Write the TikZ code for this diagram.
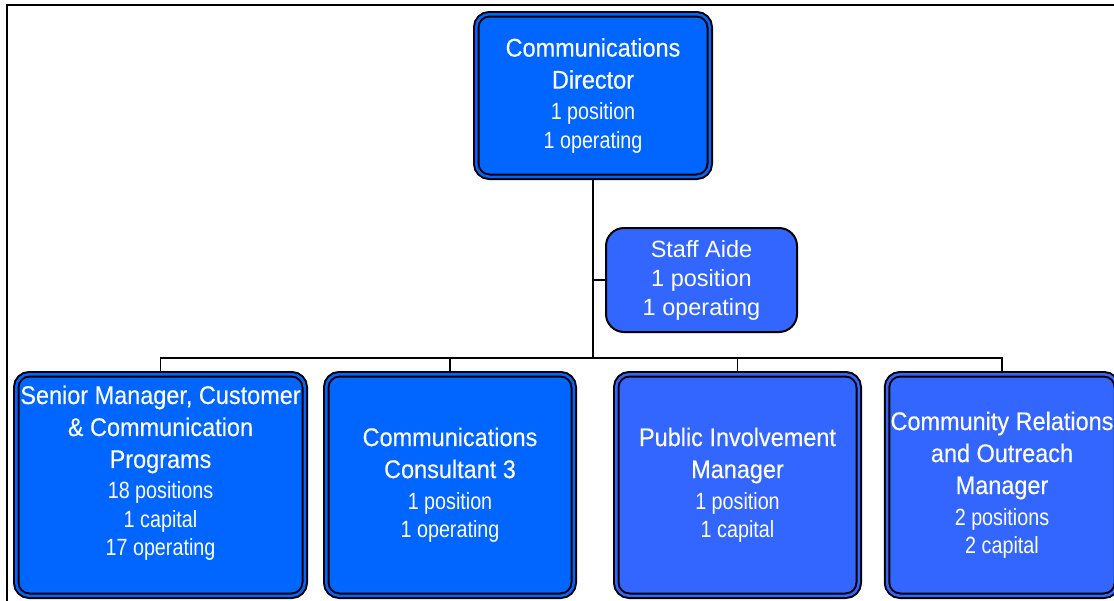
\documentclass[tikz,border=0pt]{standalone}
\usepackage{fontspec}
\setmainfont{Liberation Sans}
\newfontfamily\narrowfont[FakeStretch=0.84]{Liberation Sans}
\newfontfamily\titlefont[FakeStretch=0.92,FakeBold=0.3]{Liberation Sans}
\definecolor{blueA}{RGB}{0,102,255}
\definecolor{blueB}{RGB}{51,102,255}
\newcommand{\nr}[1]{{\fontsize{23.5}{28.5}\selectfont\narrowfont #1}}
\tikzset{
  unitbox/.style={rectangle, rounded corners=13pt, draw=black, line width=2pt,
    double distance=2.5pt, inner sep=0pt, outer sep=3.25pt, text=white,
    align=center, font=\fontsize{25.5}{28.5}\selectfont\titlefont},
  unitA/.style={unitbox, fill=blueA, double=blueA},
  unitB/.style={unitbox, fill=blueB, double=blueB},
  aidebox/.style={rectangle, rounded corners=18pt, draw=black, line width=2pt,
    fill=blueB, inner sep=0pt, outer sep=1pt, text=white, align=center,
    font=\fontsize{23.5}{29}\selectfont},
  link/.style={draw=black, line width=1.5pt},
  trunk/.style={draw=black, line width=2pt},
  frameline/.style={draw=black, line width=2.3pt},
}
\begin{document}
\begin{tikzpicture}[x=1pt,y=-1pt]
\useasboundingbox (0,0) rectangle (1114,600);
\clip (0,0) rectangle (1114,600);
\draw[frameline] (7,601) -- (7,5) -- (1115,5);

\node[unitA, minimum width=233.5pt, minimum height=162.5pt] (dir) at (593,95.5)
  {Communications\\[3.5pt] Director\\[2.5pt] \nr{1 position}\\ \nr{1 operating}};

\node[aidebox, minimum width=191pt, minimum height=104pt] (aide) at (701.5,280)
  {Staff Aide\\ 1 position\\ 1 operating};

\node[unitA, minimum width=288.5pt, minimum height=221.5pt] (senior) at (160.5,485)
  {Senior Manager, Customer\\[3.5pt] \& Communication\\[3.5pt] Programs\\[2.5pt]
   \nr{18 positions}\\ \nr{1 capital}\\ \nr{17 operating}\\ \mbox{}};

\node[unitA, minimum width=247.5pt, minimum height=221.5pt] (cons) at (450,485)
  {Communications\\[3.5pt] Consultant 3\\[2.5pt] \nr{1 position}\\ \nr{1 operating}};

\node[unitB, minimum width=242.5pt, minimum height=221.5pt] (pub) at (737.5,485)
  {Public Involvement\\[3.5pt] Manager\\[2.5pt] \nr{1 position}\\ \nr{1 capital}};

\node[unitB, minimum width=230pt, minimum height=221.5pt] (comm) at (1002,485)
  {Community Relations\\[3.5pt] and Outreach\\[3.5pt] Manager\\[2.5pt]
   \nr{2 positions}\\ \nr{2 capital}};

\coordinate (bus) at (593,358);
\draw[trunk] (dir.south) -- (bus);
\draw[link] (aide.west) -- (aide.west -| dir.south);
\draw[link] (senior.north) |- (bus) -| (comm.north);
\draw[link] (cons.north) -- (cons.north |- bus);
\draw[link] (pub.north) -- (pub.north |- bus);
\end{tikzpicture}
\end{document}
